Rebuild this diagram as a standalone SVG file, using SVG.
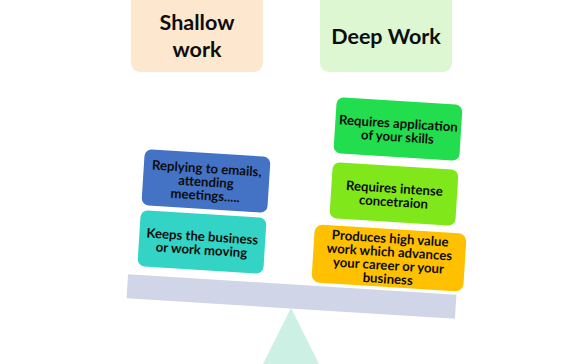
<svg xmlns="http://www.w3.org/2000/svg" width="583" height="364" viewBox="0 0 583 364">
<style>
.t{font-family:Lato,"Open Sans","Liberation Sans",sans-serif;font-weight:bold;fill:#0d0d0d;text-anchor:middle}
.big{font-size:21.5px}
.sm{font-size:13.2px}
</style>
<rect width="583" height="364" fill="#ffffff"/>
<g id="fulcrum"><polygon points="291,308 263,364 319,364" fill="#cdf0e5"/></g>
<g id="beam"><rect x="-164.5" y="-12" width="329" height="24" fill="#d0d5e8" transform="translate(291.5,296.5) rotate(3.6)"/></g>
<g id="shallow">
<rect x="131" y="-8" width="132" height="80" rx="9" fill="#fde8cf"/>
<text class="t big" x="197" y="30">Shallow</text>
<text class="t big" x="197" y="56.5">work</text>
</g>
<g id="deep">
<rect x="320" y="-8" width="132" height="80" rx="9" fill="#dcf7d1"/>
<text class="t big" x="386" y="44">Deep Work</text>
</g>
<g id="replying" transform="translate(206,181) rotate(3.6)">
<rect x="-63" y="-28" width="126" height="56" rx="7" fill="#4472c4"/>
<text class="t sm" x="0" y="-8">Replying to emails,</text>
<text class="t sm" x="0" y="5.5">attending</text>
<text class="t sm" x="0" y="19">meetings.....</text>
</g>
<g id="keeps" transform="translate(202,242) rotate(3.6)">
<rect x="-63" y="-28" width="126" height="56" rx="7" fill="#33d3c5"/>
<text class="t sm" x="0" y="-1">Keeps the business</text>
<text class="t sm" x="0" y="12.5">or work moving</text>
</g>
<g id="skills" transform="translate(398,129) rotate(3.6)">
<rect x="-63" y="-28" width="126" height="56" rx="7" fill="#22dd4e"/>
<text class="t sm" x="0" y="-1">Requires application</text>
<text class="t sm" x="0" y="12.5">of your skills</text>
</g>
<g id="concentration" transform="translate(394,194) rotate(3.6)">
<rect x="-63" y="-28" width="126" height="56" rx="7" fill="#80e81a"/>
<text class="t sm" x="0" y="-1">Requires intense</text>
<text class="t sm" x="0" y="12.5">concetraion</text>
</g>
<g id="produces" transform="translate(389,258) rotate(3.6)">
<rect x="-76" y="-29" width="152" height="58" rx="8" fill="#ffc000"/>
<text class="t sm" x="0" y="-15">Produces high value</text>
<text class="t sm" x="0" y="-1.5">work which advances</text>
<text class="t sm" x="0" y="12">your career or your</text>
<text class="t sm" x="0" y="25.5">business</text>
</g>
<g id="connectors"/>
</svg>
